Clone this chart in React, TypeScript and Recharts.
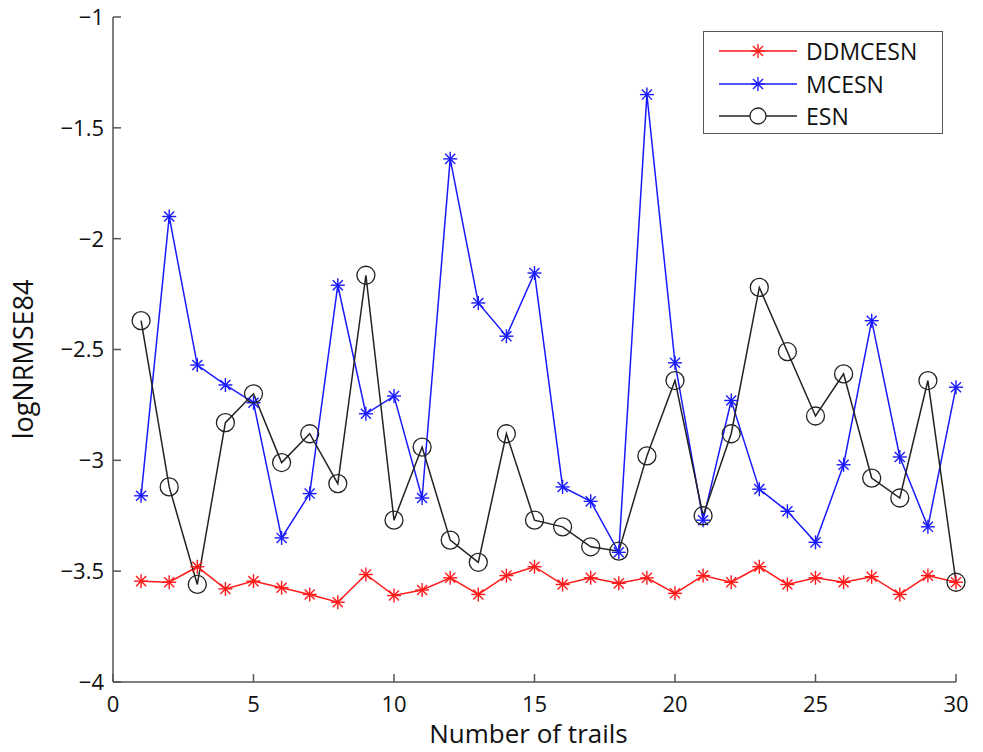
import { LineChart, Line, XAxis, YAxis, Legend } from 'recharts';

const trials = [1, 2, 3, 4, 5, 6, 7, 8, 9, 10, 11, 12, 13, 14, 15, 16, 17, 18, 19, 20, 21, 22, 23, 24, 25, 26, 27, 28, 29, 30];

const ddmcesn = [-3.545, -3.55, -3.48, -3.58, -3.545, -3.575, -3.605, -3.64, -3.515, -3.61, -3.585, -3.53, -3.605, -3.52, -3.48,
  -3.56, -3.53, -3.555, -3.53, -3.6, -3.52, -3.55, -3.48, -3.56, -3.53, -3.55, -3.525, -3.605, -3.52, -3.55];

const mcesn = [-3.16, -1.9, -2.57, -2.66, -2.74, -3.35, -3.15, -2.21, -2.79, -2.71, -3.17, -1.64, -2.29, -2.44, -2.155,
  -3.12, -3.185, -3.415, -1.35, -2.56, -3.27, -2.73, -3.13, -3.23, -3.37, -3.02, -2.37, -2.985, -3.3, -2.67];

const esn = [-2.37, -3.12, -3.56, -2.83, -2.7, -3.01, -2.88, -3.105, -2.165, -3.27, -2.94, -3.36, -3.46, -2.88, -3.27,
  -3.3, -3.39, -3.41, -2.98, -2.64, -3.25, -2.88, -2.22, -2.51, -2.8, -2.61, -3.08, -3.17, -2.64, -3.55];

const xTicks = [0, 5, 10, 15, 20, 25, 30];
const yTicks = [-4, -3.5, -3, -2.5, -2, -1.5, -1];

const data = trials.map((t, i) => ({
  trial: t,
  DDMCESN: ddmcesn[i],
  MCESN: mcesn[i],
  ESN: esn[i],
}));

const FONT = '"Open Sans", "Noto Sans", sans-serif';
const AXIS = '#555';
const TICK_LEN = 8;

const fmt = (v: number) => (v < 0 ? '\u2212' + Math.abs(v) : String(v));

function Star({ cx, cy, stroke }: { cx: number; cy: number; stroke: string }) {
  const r = 7;
  const d = r * 0.72;
  return (
    <g stroke={stroke} strokeWidth={1.4} fill="none">
      <line x1={cx - r} y1={cy} x2={cx + r} y2={cy} />
      <line x1={cx} y1={cy - r} x2={cx} y2={cy + r} />
      <line x1={cx - d} y1={cy - d} x2={cx + d} y2={cy + d} />
      <line x1={cx - d} y1={cy + d} x2={cx + d} y2={cy - d} />
    </g>
  );
}

const SERIES = [
  { key: 'DDMCESN', color: '#ff1a1a', marker: 'star' },
  { key: 'MCESN', color: '#1a1aff', marker: 'star' },
  { key: 'ESN', color: '#222222', marker: 'circle' },
];

const LeftTick = (p: any) => (
  <g>
    <line x1={p.x} y1={p.y} x2={p.x + TICK_LEN} y2={p.y} stroke={AXIS} strokeWidth={1.5} />
    <text x={p.x - 9} y={p.y} dy="0.36em" textAnchor="end" fontFamily={FONT} fontSize={22} fill="#111">
      {fmt(p.payload.value)}
    </text>
  </g>
);

const RightTick = (p: any) => (
  <line x1={p.x} y1={p.y} x2={p.x - TICK_LEN} y2={p.y} stroke={AXIS} strokeWidth={1.5} />
);

const BottomTick = (p: any) => (
  <g>
    <line x1={p.x} y1={p.y} x2={p.x} y2={p.y - TICK_LEN} stroke={AXIS} strokeWidth={1.5} />
    <text x={p.x} y={p.y + 13} dy="0.75em" textAnchor="middle" fontFamily={FONT} fontSize={22} fill="#111">
      {fmt(p.payload.value)}
    </text>
  </g>
);

const TopTick = (p: any) => (
  <line x1={p.x} y1={p.y} x2={p.x} y2={p.y + TICK_LEN} stroke={AXIS} strokeWidth={1.5} />
);

function LegendBox() {
  return (
    <div
      style={{
        width: 240,
        height: 103,
        border: `1.5px solid ${AXIS}`,
        background: '#fff',
        boxSizing: 'border-box',
        paddingTop: 3,
      }}
    >
      {SERIES.map((s) => (
        <div key={s.key} style={{ display: 'flex', alignItems: 'center', height: 32.5 }}>
          <svg width={100} height={32} style={{ display: 'block' }}>
            <line x1={15} y1={16} x2={93} y2={16} stroke={s.color} strokeWidth={1.5} />
            {s.marker === 'star' ? (
              <Star cx={54} cy={16} stroke={s.color} />
            ) : (
              <circle cx={54} cy={16} r={8} stroke={s.color} strokeWidth={1.3} fill="#fff" />
            )}
          </svg>
          <span style={{ fontFamily: FONT, fontSize: 23, color: '#111', marginLeft: 2 }}>{s.key}</span>
        </div>
      ))}
    </div>
  );
}

export default function App() {
  return (
    <div style={{ position: 'absolute', left: 0, top: 0, background: '#fff' }}>
      <LineChart width={983} height={752} data={data} margin={{ top: 17, right: 27, bottom: 0, left: 0 }}>
        <XAxis
          dataKey="trial"
          type="number"
          domain={[0, 30]}
          ticks={xTicks}
          height={70}
          tickSize={0}
          tickMargin={0}
          tick={BottomTick}
          axisLine={{ stroke: AXIS, strokeWidth: 1.5 }}
          tickLine={false}
          label={{
            content: ({ viewBox }: any) => (
              <text
                x={viewBox.x + viewBox.width / 2 - 6}
                y={viewBox.y + 61}
                textAnchor="middle"
                fontFamily={FONT}
                fontSize={26}
                fill="#111"
              >
                Number of trails
              </text>
            ),
          }}
        />
        <XAxis
          xAxisId="top"
          orientation="top"
          dataKey="trial"
          type="number"
          domain={[0, 30]}
          ticks={xTicks}
          height={0}
          tickSize={0}
          tickMargin={0}
          tick={TopTick}
          axisLine={{ stroke: AXIS, strokeWidth: 1.5 }}
          tickLine={false}
        />
        <YAxis
          type="number"
          domain={[-4, -1]}
          ticks={yTicks}
          width={113}
          tickSize={0}
          tickMargin={0}
          tick={LeftTick}
          axisLine={{ stroke: AXIS, strokeWidth: 1.5 }}
          tickLine={false}
          label={{
            content: ({ viewBox }: any) => {
              const cx = 33;
              const cy = viewBox.y + viewBox.height / 2 + 10;
              return (
                <text
                  x={cx}
                  y={cy}
                  transform={`rotate(-90, ${cx}, ${cy})`}
                  textAnchor="middle"
                  fontFamily={FONT}
                  fontSize={27}
                  fill="#111"
                >
                  logNRMSE84
                </text>
              );
            },
          }}
        />
        <YAxis
          yAxisId="right"
          orientation="right"
          type="number"
          domain={[-4, -1]}
          ticks={yTicks}
          width={0}
          tickSize={0}
          tickMargin={0}
          tick={RightTick}
          axisLine={{ stroke: AXIS, strokeWidth: 1.5 }}
          tickLine={false}
        />
        <Legend
          layout="vertical"
          align="center"
          verticalAlign="middle"
          wrapperStyle={{ top: 31, left: 703, width: 240 }}
          content={() => <LegendBox />}
        />
        {SERIES.map((s) => (
          <Line
            key={s.key}
            dataKey={s.key}
            stroke={s.color}
            strokeWidth={1.5}
            isAnimationActive={false}
            dot={
              s.marker === 'star'
                ? (p: any) => <Star key={`${s.key}-${p.index}`} cx={p.cx} cy={p.cy} stroke={s.color} />
                : { r: 9, stroke: s.color, strokeWidth: 1.3, fill: 'none' }
            }
            activeDot={false}
          />
        ))}
      </LineChart>
    </div>
  );
}
